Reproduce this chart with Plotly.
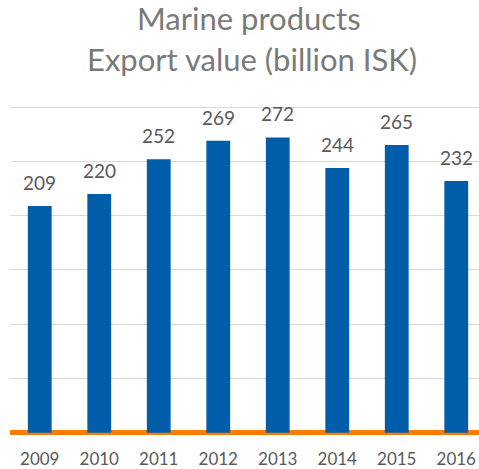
import plotly.graph_objects as go

years = ["2009", "2010", "2011", "2012", "2013", "2014", "2015", "2016"]
values = [209, 220, 252, 269, 272, 244, 265, 232]
title_lines = ["Marine products", "Export value (billion ISK)"]

BAR = "#005DAA"
ORANGE = "#FF7C00"
GRAY = "#595959"
TGRAY = "#7A7A7A"
FONT = "Lato"

fig = go.Figure()
fig.add_trace(go.Bar(
    x=list(range(len(years))), y=values, width=0.4,
    marker=dict(color=BAR, line=dict(width=0)),
    hoverinfo="skip",
))

for i, v in enumerate(values):
    fig.add_annotation(x=i, y=v, text=str(v), showarrow=False,
                       yanchor="bottom", yshift=10,
                       font=dict(family=FONT, size=19, color=GRAY))

fig.add_annotation(xref="paper", yref="paper", x=(249 - 10) / 469, y=1,
                   yshift=88, text=title_lines[0], showarrow=False,
                   xanchor="center", yanchor="middle",
                   font=dict(family=FONT, size=31, color=TGRAY))
fig.add_annotation(xref="paper", yref="paper", x=(251.5 - 10) / 469, y=1,
                   yshift=47, text=title_lines[1], showarrow=False,
                   xanchor="center", yanchor="middle",
                   font=dict(family=FONT, size=31, color=TGRAY))

fig.update_layout(
    width=479, height=469,
    margin=dict(l=10, r=0, t=106, b=34),
    paper_bgcolor="white", plot_bgcolor="white",
    showlegend=False,
    xaxis=dict(range=[-0.5, -0.5 + 469 / 59.5],
               tickmode="array", tickvals=list(range(len(years))), ticktext=years,
               showgrid=False, zeroline=False, showline=False, ticks="",
               ticklabelstandoff=12,
               tickfont=dict(family=FONT, size=17, color=GRAY)),
    yaxis=dict(range=[-2, 301], tickmode="array", tickvals=[50, 100, 150, 200, 250, 300],
               showticklabels=False,
               showgrid=True, gridcolor="#D9D9D9", gridwidth=1,
               zeroline=True, zerolinecolor=ORANGE, zerolinewidth=5,
               ticks=""),
)

fig.write_html("out.html")
